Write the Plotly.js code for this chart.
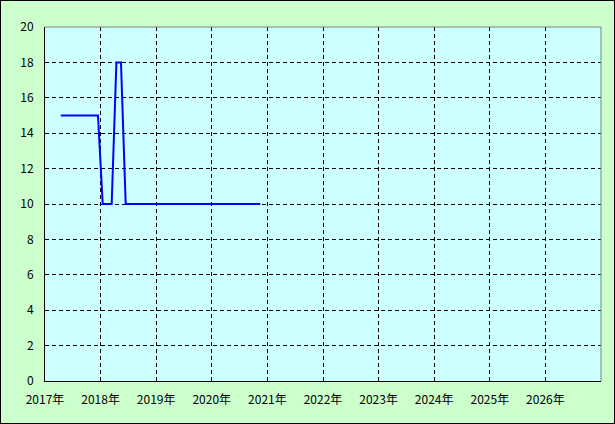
<!DOCTYPE html>
<html>
<head>
<meta charset="utf-8">
<script src="https://cdn.plot.ly/plotly-3.0.1.min.js"></script>
<style>
html,body{margin:0;padding:0;background:#ccffcc;}
#wrap{position:relative;width:615px;height:424px;}
#chart{width:615px;height:424px;}
#frame{position:absolute;left:0;top:0;width:615px;height:424px;box-sizing:border-box;border:1px solid #000;pointer-events:none;}
</style>
</head>
<body>
<div id="wrap"><div id="chart"></div><div id="frame"></div></div>
<script>
const dates = [
  "2017-04-15","2017-05-15","2017-06-15","2017-07-15","2017-08-15","2017-09-15","2017-10-15","2017-11-15","2017-12-15",
  "2018-01-15","2018-02-15","2018-03-15","2018-04-15","2018-05-15","2018-06-15","2018-07-15","2018-08-15","2018-09-15","2018-10-15","2018-11-15","2018-12-15",
  "2019-01-15","2019-02-15","2019-03-15","2019-04-15","2019-05-15","2019-06-15","2019-07-15","2019-08-15","2019-09-15","2019-10-15","2019-11-15","2019-12-15",
  "2020-01-15","2020-02-15","2020-03-15","2020-04-15","2020-05-15","2020-06-15","2020-07-15","2020-08-15","2020-09-15","2020-10-15","2020-11-15"
];
const values = [
  15,15,15,15,15,15,15,15,15,
  10,10,10,18,18,10,10,10,10,10,10,10,
  10,10,10,10,10,10,10,10,10,10,10,10,
  10,10,10,10,10,10,10,10,10,10,10
];
const yTicks = [0,2,4,6,8,10,12,14,16,18,20];
const xTickVals = ["2017-01-01","2018-01-01","2019-01-01","2020-01-01","2021-01-01","2022-01-01","2023-01-01","2024-01-01","2025-01-01","2026-01-01"];
const xTickText = ["2017年","2018年","2019年","2020年","2021年","2022年","2023年","2024年","2025年","2026年"];

const font = {family: "'Noto Sans CJK JP', 'DejaVu Sans', sans-serif", size: 12, color: "#000"};

Plotly.newPlot("chart", [{
  x: dates, y: values, type: "scatter", mode: "lines",
  line: {color: "#0000ff", width: 2}, hoverinfo: "skip"
}], {
  width: 615, height: 424,
  margin: {l: 45, r: 14, t: 27, b: 43, pad: 0},
  paper_bgcolor: "#ccffcc", plot_bgcolor: "#ccffff",
  font: font,
  showlegend: false,
  xaxis: {
    type: "date", range: ["2017-01-01", "2027-01-01"],
    tickmode: "array", tickvals: xTickVals, ticktext: xTickText,
    showgrid: true, gridcolor: "#000", griddash: "4px,3px", gridwidth: 1,
    showline: true, linecolor: "#000", linewidth: 1,
    ticks: "", zeroline: false, tickfont: font, ticklabelstandoff: 8
  },
  yaxis: {
    range: [0, 20], tickmode: "array", tickvals: yTicks,
    showgrid: true, gridcolor: "#000", griddash: "4px,3px", gridwidth: 1,
    showline: true, linecolor: "#000", linewidth: 1,
    ticks: "", zeroline: false, tickfont: font, ticklabelstandoff: 8
  },
  shapes: [
    {type: "line", xref: "paper", yref: "paper", x0: 0, x1: 1, y0: 1, y1: 1, line: {color: "#808080", width: 1}},
    {type: "line", xref: "paper", yref: "paper", x0: 1, x1: 1, y0: 0, y1: 1, line: {color: "#808080", width: 1}}
  ]
}, {staticPlot: true});
</script>
</body>
</html>
